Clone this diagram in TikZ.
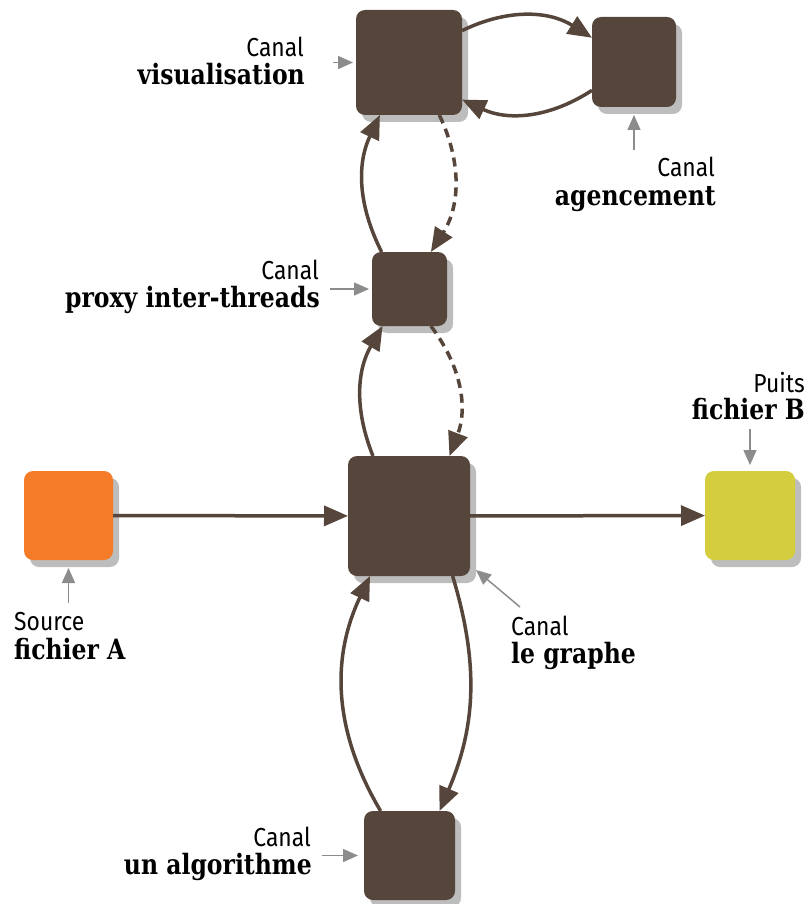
\documentclass[tikz,border=0pt]{standalone}
\usepackage{fontspec}
\usetikzlibrary{arrows.meta,shadows}
\newfontfamily\canalfont[FakeStretch=0.88]{Fira Sans}
\newfontfamily\namefont[FakeStretch=0.84]{DejaVu Serif}
\definecolor{brn}{HTML}{55453A}
\definecolor{org}{HTML}{F47C28}
\definecolor{ylw}{HTML}{D4CD3D}
\definecolor{shd}{HTML}{BDBDBD}
\definecolor{ptr}{HTML}{8C8C8C}
\begin{document}
\begin{tikzpicture}[x=1pt,y=-1pt,
  box/.style={rectangle, rounded corners=9pt, inner sep=0pt, outer sep=0pt, fill=brn,
    drop shadow={shadow xshift=6pt, shadow yshift=-7pt, fill=shd, opacity=1}},
  flow/.style={draw=brn, line width=3.5pt, -{Triangle[length=24pt,width=20pt]}},
  dflow/.style={flow, dash pattern=on 9pt off 6pt},
  pointer/.style={draw=ptr, line width=1.5pt, -{Triangle[length=15pt,width=13pt]}},
  lbl/.style={font=\canalfont\fontsize{26}{30}\selectfont, inner sep=0pt, text=black},
  nm/.style={font=\namefont\bfseries\fontsize{28}{32}\selectfont, inner sep=0pt, text=black},
]
\useasboundingbox (0,0) rectangle (807,904);

% boxes
\node[box, minimum width=106pt, minimum height=105pt] (vis) at (409,62.5) {};
\node[box, minimum width=84pt, minimum height=90pt] (age) at (634,62) {};
\node[box, minimum width=75pt, minimum height=74pt] (prox) at (409.5,289) {};
\node[box, minimum width=122pt, minimum height=120pt] (gra) at (409,516) {};
\node[box, minimum width=91pt, minimum height=89pt] (alg) at (409.5,855.5) {};
\node[box, fill=org, minimum width=89pt, minimum height=89pt] (src) at (68.5,515.5) {};
\node[box, fill=ylw, minimum width=90pt, minimum height=89pt] (sink) at (750,515.5) {};

% flows
\draw[flow] (vis.31) to[bend left=29] (age.150);
\draw[flow] (age.214) to[bend left=29] (vis.-35);
\draw[flow] (prox.127) to[bend left=26] (vis.241);
\draw[dflow] (vis.300) to[bend left=29] (prox.60);
\draw[flow] (gra.121) to[bend left=26] (prox.234);
\draw[dflow] (prox.300) to[bend left=29] (gra.56);
\draw[flow] (alg.123) to[bend left=28] (gra.237);
\draw[flow] (gra.306) to[bend left=20] (alg.56);
\draw[flow] (src) -- (gra);
\draw[flow] (gra) -- (sink);

% labels
\node[lbl, anchor=base east] (visC) at (304,57) {Canal};
\node[nm, anchor=base east] (visN) at (305,85) {visualisation};
\node[lbl, anchor=base east] (ageC) at (715,177) {Canal};
\node[nm, anchor=base east] (ageN) at (716,205) {agencement};
\node[lbl, anchor=base east] (proxC) at (319,279) {Canal};
\node[nm, anchor=base east] (proxN) at (320,307) {proxy inter-threads};
\node[lbl, anchor=base east] (sinkC) at (805,392) {Puits};
\node[nm, anchor=base east] (sinkN) at (805,419) {fichier B};
\node[lbl, anchor=base west] (srcC) at (14,630) {Source};
\node[nm, anchor=base west] (srcN) at (14,659) {fichier A};
\node[lbl, anchor=base west] (graC) at (511,635) {Canal};
\node[nm, anchor=base west] (graN) at (511,663) {le graphe};
\node[lbl, anchor=base east] (algC) at (311,846) {Canal};
\node[nm, anchor=base east] (algN) at (312,874) {un algorithme};

% pointers
\draw[pointer] ([xshift=-23pt]vis.west) -- ([xshift=-3pt]vis.west);
\draw[pointer] ([yshift=-43pt]age.south) -- ([yshift=-8pt]age.south);
\draw[pointer] ([xshift=-42pt]prox.west) -- ([xshift=-3pt]prox.west);
\draw[pointer] ([yshift=42pt]sink.north) -- ([yshift=6pt]sink.north);
\draw[pointer] ([yshift=-43pt]src.south) -- ([yshift=-8pt]src.south);
\draw[pointer] ([shift={(50pt,-31pt)}]gra.south east) -- ([shift={(6pt,6pt)}]gra.south east);
\draw[pointer] ([xshift=-42pt]alg.west) -- ([xshift=-6pt]alg.west);
\end{tikzpicture}
\end{document}
